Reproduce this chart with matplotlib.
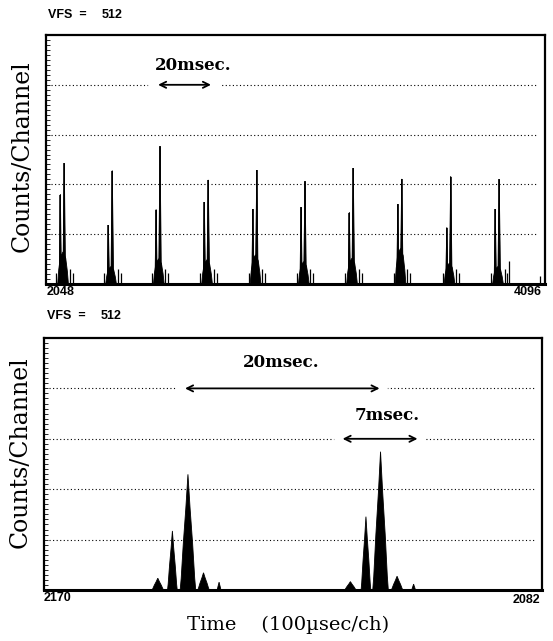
import numpy as np
import matplotlib.pyplot as plt
from matplotlib.ticker import MultipleLocator

# full scale of both spectra
vfs = 512
grid_levels = [102.4, 204.8, 307.2, 409.6]

# upper spectrum, channels 2048..4096
top_range = (2048, 4096)
top_main_ch = [2123, 2320, 2516, 2714, 2913, 3111, 3309, 3508, 3709, 3908]
top_main_h = [248, 233, 283, 214, 234, 211, 238, 216, 221, 215]
top_sec_h = [184, 121, 153, 168, 154, 158, 147, 164, 116, 154]
top_base_h = [66, 36, 52, 50, 60, 46, 53, 73, 43, 36]
top_sec_off = -16
top_side_off = [-32, 22, 34]
top_side_h = [22, 30, 22]
top_extra_ch = [3948, 4075]
top_extra_h = [48, 16]

# lower spectrum, channels 2170..2682 (zoomed)
bot_range = (2170, 2682)
bot_ch = [2287, 2302, 2318, 2334, 2350, 2485, 2501, 2516, 2533, 2550]
bot_h = [24, 120, 235, 35, 16, 17, 149, 281, 28, 12]
bot_w = [6, 5, 8, 6, 2, 6, 5, 8, 6, 2]

# peak outline (relative)
shape_x = np.array([-1, -0.87, -0.6, -0.27, 0, 0.27, 0.6, 0.87, 1])
shape_y = np.array([0, 0.1, 0.4, 0.71, 1, 0.71, 0.4, 0.1, 0])
base_x = np.array([-1, -0.8, -0.5, 0, 0.5, 0.8, 1])
base_y = np.array([0, 0.45, 0.85, 1, 0.8, 0.4, 0])

W, H = 553, 641
fig = plt.figure(figsize=(W / 100, H / 100), dpi=100)


def px_axes(l, t, r, b):
    return fig.add_axes([l / W, 1 - b / H, (r - l) / W, (b - t) / H])


def peak(ax, c, h, w):
    ax.fill(c + w * shape_x, h * shape_y, color='black', lw=0.6, zorder=4)


def style(ax, xr):
    ax.set_xlim(xr)
    ax.set_ylim(0, vfs)
    ax.set_xticks([])
    ax.set_yticks([])
    ax.yaxis.set_minor_locator(MultipleLocator(vfs / 50))
    ax.tick_params(which='minor', axis='y', direction='in', length=3, width=0.6, left=True)
    ax.tick_params(which='minor', axis='x', bottom=False)
    for s in ax.spines.values():
        s.set_linewidth(1.6)
    ax.spines['bottom'].set_linewidth(2.2)
    for g in grid_levels:
        ax.axhline(g, xmin=0.01, xmax=0.985, color='black', lw=0.8,
                   linestyle=(0, (1, 2.2)), zorder=1)


def arrow(ax, x0, x1, y, gap):
    ax.plot([x0 - gap, x1 + gap], [y, y], color='white', lw=4, zorder=2)
    ax.annotate('', xy=(x1, y), xytext=(x0, y),
                arrowprops=dict(arrowstyle='<->', lw=1.3, color='black',
                                mutation_scale=11, shrinkA=0, shrinkB=0), zorder=3)


serif = 'DejaVu Serif'

# ---- upper panel
ax1 = px_axes(46, 35, 545, 284)
style(ax1, top_range)
for m, hm, hs, hb in zip(top_main_ch, top_main_h, top_sec_h, top_base_h):
    ax1.fill(m - 5 + 22 * base_x, hb * base_y, color='black', lw=0.6, zorder=4)
    peak(ax1, m + top_sec_off, hs, 5)
    peak(ax1, m, hm, 6)
    ax1.vlines([m, m + top_sec_off], 0, [hm, hs], color='black', lw=1.1, zorder=4)
    ax1.vlines([m + o for o in top_side_off], 0, top_side_h, color='black', lw=0.9, zorder=4)
ax1.vlines(top_extra_ch, 0, top_extra_h, color='black', lw=0.9, zorder=4)
arrow(ax1, 2508, 2725, grid_levels[3], 30)
ax1.text(2651, 450, '20msec.', family=serif, weight='bold', fontsize=12,
         ha='center', va='center')

# ---- lower panel
ax2 = px_axes(44, 338, 542, 590)
style(ax2, bot_range)
for c, h, w in zip(bot_ch, bot_h, bot_w):
    peak(ax2, c, h, w)
arrow(ax2, 2315, 2515, grid_levels[3], 6)
arrow(ax2, 2477, 2554, grid_levels[2], 6)
ax2.text(2414, 462, '20msec.', family=serif, weight='bold', fontsize=12,
         ha='center', va='center')
ax2.text(2523, 355, '7msec.', family=serif, weight='bold', fontsize=12,
         ha='center', va='center')

# ---- labels around panels
def ftext(x, y, s, **kw):
    fig.text(x / W, 1 - y / H, s, **kw)


lab = dict(family='Liberation Sans', weight='bold', fontsize=9, va='center')
ftext(48, 15, 'VFS  =', ha='left', **lab)
ftext(102, 15, '512', ha='left', **lab)
ftext(47, 316, 'VFS  =', ha='left', **lab)
ftext(101, 316, '512', ha='left', **lab)
ftext(47, 292, '2048', ha='left', **lab)
ftext(542, 292, '4096', ha='right', **lab)
ftext(44, 598, '2170', ha='left', **lab)
ftext(540, 600, '2082', ha='right', **lab)

ftext(22, 156, 'Counts/Channel', family=serif, fontsize=17, rotation=90,
      ha='center', va='center')
ftext(20, 452, 'Counts/Channel', family=serif, fontsize=17, rotation=90,
      ha='center', va='center')
ftext(288, 625, 'Time    (100µsec/ch)', family=serif, fontsize=14,
      ha='center', va='center')

fig.savefig('out.png', dpi=100)
